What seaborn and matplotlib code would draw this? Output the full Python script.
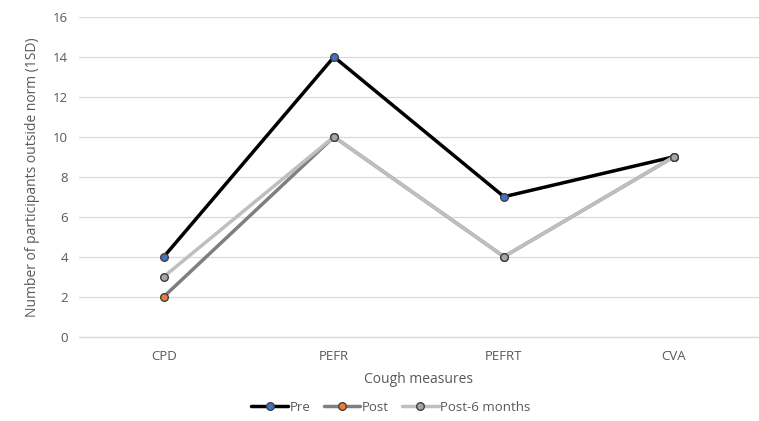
import matplotlib
matplotlib.use("Agg")
import matplotlib.pyplot as plt
import seaborn as sns
import pandas as pd

# Number of participants outside the norm (1SD) per cough measure
measures = ["CPD", "PEFR", "PEFRT", "CVA"]
pre = [4, 14, 7, 9]
post = [2, 10, 4, 9]
post_6m = [3, 10, 4, 9]

series_names = ["Pre", "Post", "Post-6 months"]
line_colors = ["#000000", "#7f7f7f", "#bfbfbf"]
marker_colors = ["#4472c4", "#ed7d31", "#a5a5a5"]

df = pd.DataFrame({
    "measure": measures * 3,
    "value": pre + post + post_6m,
    "series": [s for s in series_names for _ in measures],
})

sns.set_style("white")
plt.rcParams["font.family"] = ["Open Sans", "DejaVu Sans"]
text_color = "#595959"

fig = plt.figure(figsize=(7.59, 4.21), dpi=100)
ax = fig.add_axes([0.104, 0.2007, 0.896, 0.759])

for i, name in enumerate(series_names):
    sub = df[df["series"] == name]
    sns.lineplot(
        data=sub, x="measure", y="value", ax=ax, sort=False,
        color=line_colors[i], linewidth=2.5, marker="o",
        markersize=5.5, markerfacecolor=marker_colors[i],
        markeredgecolor="#404040", markeredgewidth=1.0,
        label=name, zorder=3 + i,
    )

ax.set_xlim(-0.5, 3.5)
ax.set_ylim(0, 16)
ax.set_yticks(range(0, 17, 2))
ax.yaxis.grid(True, color="#d9d9d9", linewidth=0.9)
ax.xaxis.grid(False)
for side in ["top", "right", "left"]:
    ax.spines[side].set_visible(False)
ax.spines["bottom"].set_color("#d9d9d9")
ax.spines["bottom"].set_linewidth(0.9)
ax.tick_params(axis="both", length=0, labelsize=9.5, colors=text_color, pad=8)
ax.tick_params(axis="x", pad=10)

ax.set_xlabel("Cough measures", fontsize=10, color=text_color, labelpad=6)
ax.set_ylabel("Number of participants outside norm (1SD)", fontsize=10,
              color=text_color, labelpad=9)

ax.legend(loc="center", bbox_to_anchor=(0.515, 0.033), bbox_transform=fig.transFigure,
          ncol=3, frameon=False, fontsize=9.5, labelcolor=text_color,
          handlelength=2.8, handletextpad=0.1, columnspacing=1.0)

fig.savefig("out.png", dpi=100)
